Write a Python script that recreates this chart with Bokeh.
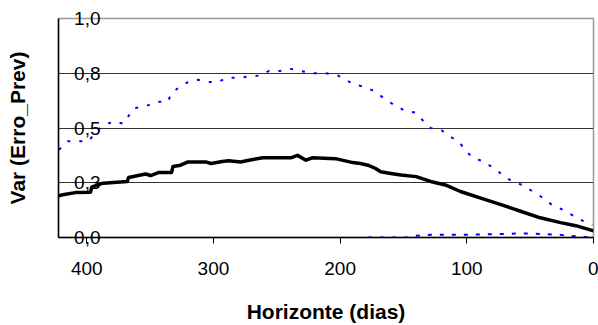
from bokeh.plotting import figure
from bokeh.models import Range1d, FixedTicker
from bokeh.embed import file_html
from bokeh.resources import INLINE

# Variance of forecast error vs horizon (days)
var_x = [422, 419, 409, 397, 396, 391.5, 387, 368, 367, 353.6, 349.6, 343, 333, 332, 326, 320,
         306, 302, 293, 288, 278.6, 272, 261, 239, 233.6, 227, 222, 203.6, 196, 190, 184, 178,
         172, 168, 160, 152, 140, 128.6, 117, 105, 89, 73, 57.6, 42, 26, 14, 0]
var_y = [0.19, 0.195, 0.205, 0.207, 0.23, 0.24, 0.248, 0.256, 0.274, 0.29, 0.283, 0.297, 0.297,
         0.324, 0.33, 0.345, 0.345, 0.338, 0.347, 0.35, 0.345, 0.353, 0.364, 0.364, 0.375, 0.353,
         0.364, 0.36, 0.35, 0.342, 0.338, 0.33, 0.315, 0.30, 0.292, 0.285, 0.278, 0.256, 0.24,
         0.21, 0.18, 0.15, 0.12, 0.09, 0.068, 0.054, 0.03]

# Upper bound
up_x = [422, 415, 405, 398.6, 391.5, 387, 379, 371, 363, 353.6, 344, 336, 333, 326, 320, 312.5,
        304, 296, 289.7, 279.4, 271.5, 263, 256.5, 248, 239, 230.5, 222, 212, 204, 196.5, 190,
        182, 173.6, 164, 156, 149, 140.5, 134, 128.6, 120, 113, 106.5, 100, 94, 87.6, 77, 69.5,
        62, 56, 48, 41, 33, 24.5, 16, 8, 1]
up_y = [0.40, 0.44, 0.44, 0.44, 0.49, 0.51, 0.53, 0.52, 0.59, 0.60, 0.62, 0.62, 0.66, 0.69, 0.71,
        0.72, 0.71, 0.71, 0.73, 0.73, 0.735, 0.74, 0.76, 0.76, 0.77, 0.76, 0.75, 0.75, 0.745,
        0.725, 0.70, 0.69, 0.67, 0.63, 0.60, 0.58, 0.57, 0.53, 0.50, 0.49, 0.46, 0.44, 0.39,
        0.36, 0.35, 0.31, 0.275, 0.25, 0.24, 0.21, 0.185, 0.15, 0.127, 0.10, 0.075, 0.058]

# Lower bound
lo_x = [178, 148, 140, 128, 100, 88, 60, 48, 26, 12, 0]
lo_y = [0.0, 0.0, 0.008, 0.012, 0.012, 0.014, 0.018, 0.018, 0.012, 0.004, 0.0]

y_ticks = [0.0, 0.25, 0.5, 0.75, 1.0]
y_tick_labels = ["0,0", "0,3", "0,5", "0,8", "1,0"]
x_ticks = [400, 300, 200, 100, 0]

p = figure(width=598, height=325, output_backend="svg", toolbar_location=None,
           x_range=Range1d(422.3, 0), y_range=Range1d(0, 1.0),
           min_border_left=58, min_border_right=5, min_border_top=18, min_border_bottom=85)
p.background_fill_color = "white"
p.border_fill_color = "white"
p.outline_line_color = "#999999"
p.outline_line_width = 1.5

p.line(up_x, up_y, line_color="#0000ff", line_width=2, line_dash="3 9")
p.line(lo_x, lo_y, line_color="#0000ff", line_width=2, line_dash="4 8")
p.line(var_x, var_y, line_color="black", line_width=3.5, line_join="round")

p.xgrid.visible = False
p.ygrid.ticker = FixedTicker(ticks=[0.25, 0.5, 0.75])
p.ygrid.grid_line_color = "#333333"
p.ygrid.grid_line_width = 1

xa = p.xaxis[0]
xa.ticker = FixedTicker(ticks=x_ticks)
xa.axis_line_color = "black"
xa.axis_line_width = 1.5
xa.major_tick_out = 6
xa.major_tick_in = 0
xa.minor_tick_out = 0
xa.minor_tick_in = 0
xa.major_label_text_font = "Liberation Sans"
xa.major_label_text_font_size = "19px"
xa.major_label_text_color = "black"
xa.major_label_standoff = 18
xa.axis_label = "Horizonte (dias)"
xa.axis_label_text_font = "Liberation Sans"
xa.axis_label_text_font_style = "bold"
xa.axis_label_text_font_size = "21px"
xa.axis_label_text_color = "black"
xa.axis_label_standoff = 22

ya = p.yaxis[0]
ya.ticker = FixedTicker(ticks=y_ticks)
ya.major_label_overrides = {t: l for t, l in zip(y_ticks, y_tick_labels)}
ya.axis_line_color = "black"
ya.axis_line_width = 1.5
ya.major_tick_out = 0
ya.major_tick_in = 0
ya.minor_tick_out = 0
ya.minor_tick_in = 0
ya.major_label_text_font = "Liberation Sans"
ya.major_label_text_font_size = "19px"
ya.major_label_text_color = "black"
ya.major_label_standoff = -42
ya.axis_label = "Var (Erro_Prev)"
ya.axis_label_text_font = "Liberation Sans"
ya.axis_label_text_font_style = "bold"
ya.axis_label_text_font_size = "21px"
ya.axis_label_text_color = "black"
ya.axis_label_standoff = 42

open("out.html", "w").write(file_html(p, INLINE))
